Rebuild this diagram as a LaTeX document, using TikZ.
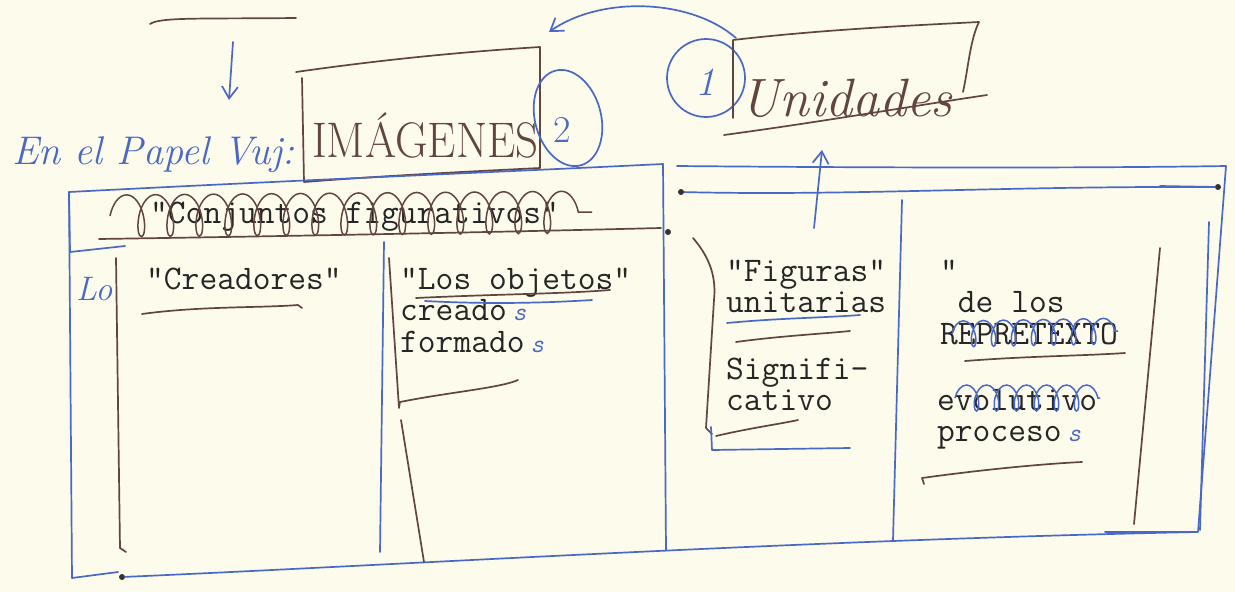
\documentclass[tikz,border=0pt]{standalone}
\usepackage{fontspec}
\usetikzlibrary{decorations.pathmorphing,arrows.meta}
\definecolor{paper}{RGB}{253,251,235}
\definecolor{ink}{RGB}{74,104,198}
\definecolor{pen}{RGB}{98,68,64}
\definecolor{typeink}{RGB}{38,38,38}
\newcommand{\bluess}{{\color{ink}\itshape\fontsize{26}{26}\selectfont s}}
\begin{document}
\begin{tikzpicture}[x=1pt,y=-1pt,
  bl/.style={draw=ink,line width=1.7pt,line cap=round,line join=round},
  br/.style={draw=pen,line width=1.7pt,line cap=round,line join=round},
  typed/.style={font=\ttfamily\fontsize{34.5}{31.8}\selectfont,text=typeink,inner sep=0pt,anchor=base west},
  handb/.style={font=\itshape\fontsize{#1}{#1}\selectfont,text=ink,inner sep=0pt},
  handp/.style={font=\itshape\fontsize{#1}{#1}\selectfont,text=pen,inner sep=0pt},
  barb/.style={-{Straight Barb[length=12pt,width=16pt]}},
  dotmark/.style={fill=black!80,circle,inner sep=0pt,minimum size=6pt},
  scrib/.style={draw=#1,line width=1.5pt,decorate}
]
\fill[paper] (0,0) rectangle (1235,592);
\useasboundingbox (0,0) rectangle (1235,592);

% top fragment underline
\draw[br] (150,24) .. controls (160,17) and (200,19) .. (296,18);

% down arrow
\coordinate (da1) at (233,42);
\coordinate (da2) at (229,100);
\draw[bl,barb] (da1) -- (da2);

% En el Papel Vuj:
\node[handb=40,anchor=base west] (papel) at (12,164) {En el Papel Vuj:};

% IMAGENES box
\node[font=\fontsize{50}{50}\selectfont,text=pen,inner sep=0pt,anchor=base west,xscale=0.9] (imag) at (312,157) {IMÁGENES};
\draw[br] (296,72) .. controls (380,60) and (460,52) .. (540,47) -- (540,168)
  .. controls (460,172) and (380,176) .. (304,182) -- (302,78);
% circle 2
\draw[bl] (568,118) ellipse [x radius=33pt, y radius=49pt, rotate=15];
\node[font=\fontsize{38}{38}\selectfont,text=ink,inner sep=0pt] (two) at (562,130) {2};

% circle 1
\draw[bl] (706,78) circle [radius=39pt];
\node[handb=40] (one) at (705,82) {1};
% curved arrow from circle 1 to IMAGENES
\coordinate (ca1) at (736,38);
\coordinate (ca2) at (549,32);
\draw[bl,barb] (ca1) .. controls (690,-2) and (600,-4) .. (ca2);

% Unidades bracket
\node[handp=54,anchor=base west] (unid) at (740,116) {Unidades};
\draw[br] (733,118) -- (733,40) .. controls (820,30) and (900,26) .. (979,22)
  .. controls (970,40) and (968,70) .. (963,92);
\draw[br] (724,135) .. controls (820,122) and (900,108) .. (987,95);

% up arrow
\coordinate (ua1) at (814,228);
\coordinate (ua2) at (822,150);
\draw[bl,barb] (ua1) -- (ua2);

% ===== left panel =====
\draw[bl] (70,252) -- (69,192) .. controls (300,180) and (500,172) .. (663,164);
\draw[bl] (69,192) -- (72,578) -- (118,572);
\draw[bl] (663,164) -- (666,550);
\draw[bl] (70,252) -- (125,246);
\draw[br] (99,239) .. controls (300,236) and (500,232) .. (661,228);
\node[typed] (conj) at (150,223) {"Conjuntos figurativos"};
\draw[scrib=pen,decoration={coil,aspect=0.45,segment length=29pt,amplitude=21pt}] (110,216) -- (592,212);

% bottom line
\node[dotmark] (d1) at (122,577) {};
\draw[bl] (d1) .. controls (400,565) and (800,540) .. (1197,532);

% left column
\node[handb=34,anchor=base west] (lo) at (76,300) {Lo};
\draw[br] (116,258) -- (120,548) -- (126,552);
\node[typed] (crea) at (146,289) {"Creadores"};
\draw[br] (142,314) .. controls (200,306) and (260,308) .. (298,305) -- (302,308);

% middle column
\draw[bl] (384,242) -- (380,552);
\draw[br] (389,258) -- (399,408) -- (400,402) .. controls (450,392) and (500,388) .. (518,380);
\draw[br] (401,420) -- (424,562);
\node[typed] (objs) at (400,289) {\begin{tabular}[t]{@{}l@{}}"Los objetos"\\creado\,\bluess\\formado\,\bluess\end{tabular}};
\draw[br] (416,298) .. controls (500,294) and (560,294) .. (610,290);
\draw[bl] (425,301) .. controls (500,305) and (560,302) .. (592,300);

% ===== right panel =====
\node[dotmark] (d2) at (681,192) {};
\node[dotmark] (d3) at (1218,187) {};
\node[dotmark] (d4) at (668,232) {};
\draw[bl] (677,166) .. controls (900,168) and (1100,168) .. (1226,166) -- (1198,532);
\draw[bl] (d2) .. controls (850,196) and (1000,186) .. (d3);
\draw[bl] (1160,186) -- (d3);
\draw[bl] (1209,222) -- (1200,530);
\draw[bl] (1105,532) -- (1197,532);

% figuras column
\draw[br] (693,238) .. controls (712,260) and (716,280) .. (714,300) -- (706,428) -- (712,434);
\draw[bl] (711,427) -- (712,450) -- (850,448);
\node[typed] (fig) at (726,281) {\begin{tabular}[t]{@{}l@{}}"Figuras"\\unitarias\end{tabular}};
\draw[bl] (727,323) .. controls (780,318) and (820,318) .. (860,315);
\draw[br] (736,342) .. controls (780,336) and (820,334) .. (850,331);
\node[typed] (sig) at (726,379) {\begin{tabular}[t]{@{}l@{}}Signifi-\\cativo\end{tabular}};
\draw[br] (716,436) .. controls (750,428) and (780,424) .. (798,420);

% divider
\draw[bl] (902,200) -- (893,540);
\draw[br] (1160,248) -- (1134,524);

% right column
\node[typed] (delos) at (940,281) {\begin{tabular}[t]{@{}l@{}}"\\\phantom{x}de los\\REPRETEXTO\end{tabular}};
\draw[scrib=ink,decoration={coil,aspect=0.5,segment length=20pt,amplitude=13pt}] (952,334) -- (1118,331);
\draw[br] (965,361) .. controls (1030,356) and (1080,356) .. (1125,353);
\node[typed] (evol) at (937,410) {\begin{tabular}[t]{@{}l@{}}evolutivo\\proceso\,\bluess\end{tabular}};
\draw[scrib=ink,decoration={coil,aspect=0.5,segment length=20pt,amplitude=13pt}] (955,398) -- (1100,398);
\draw[br] (924,484) -- (922,478) .. controls (980,470) and (1040,464) .. (1082,462);
\end{tikzpicture}
\end{document}
